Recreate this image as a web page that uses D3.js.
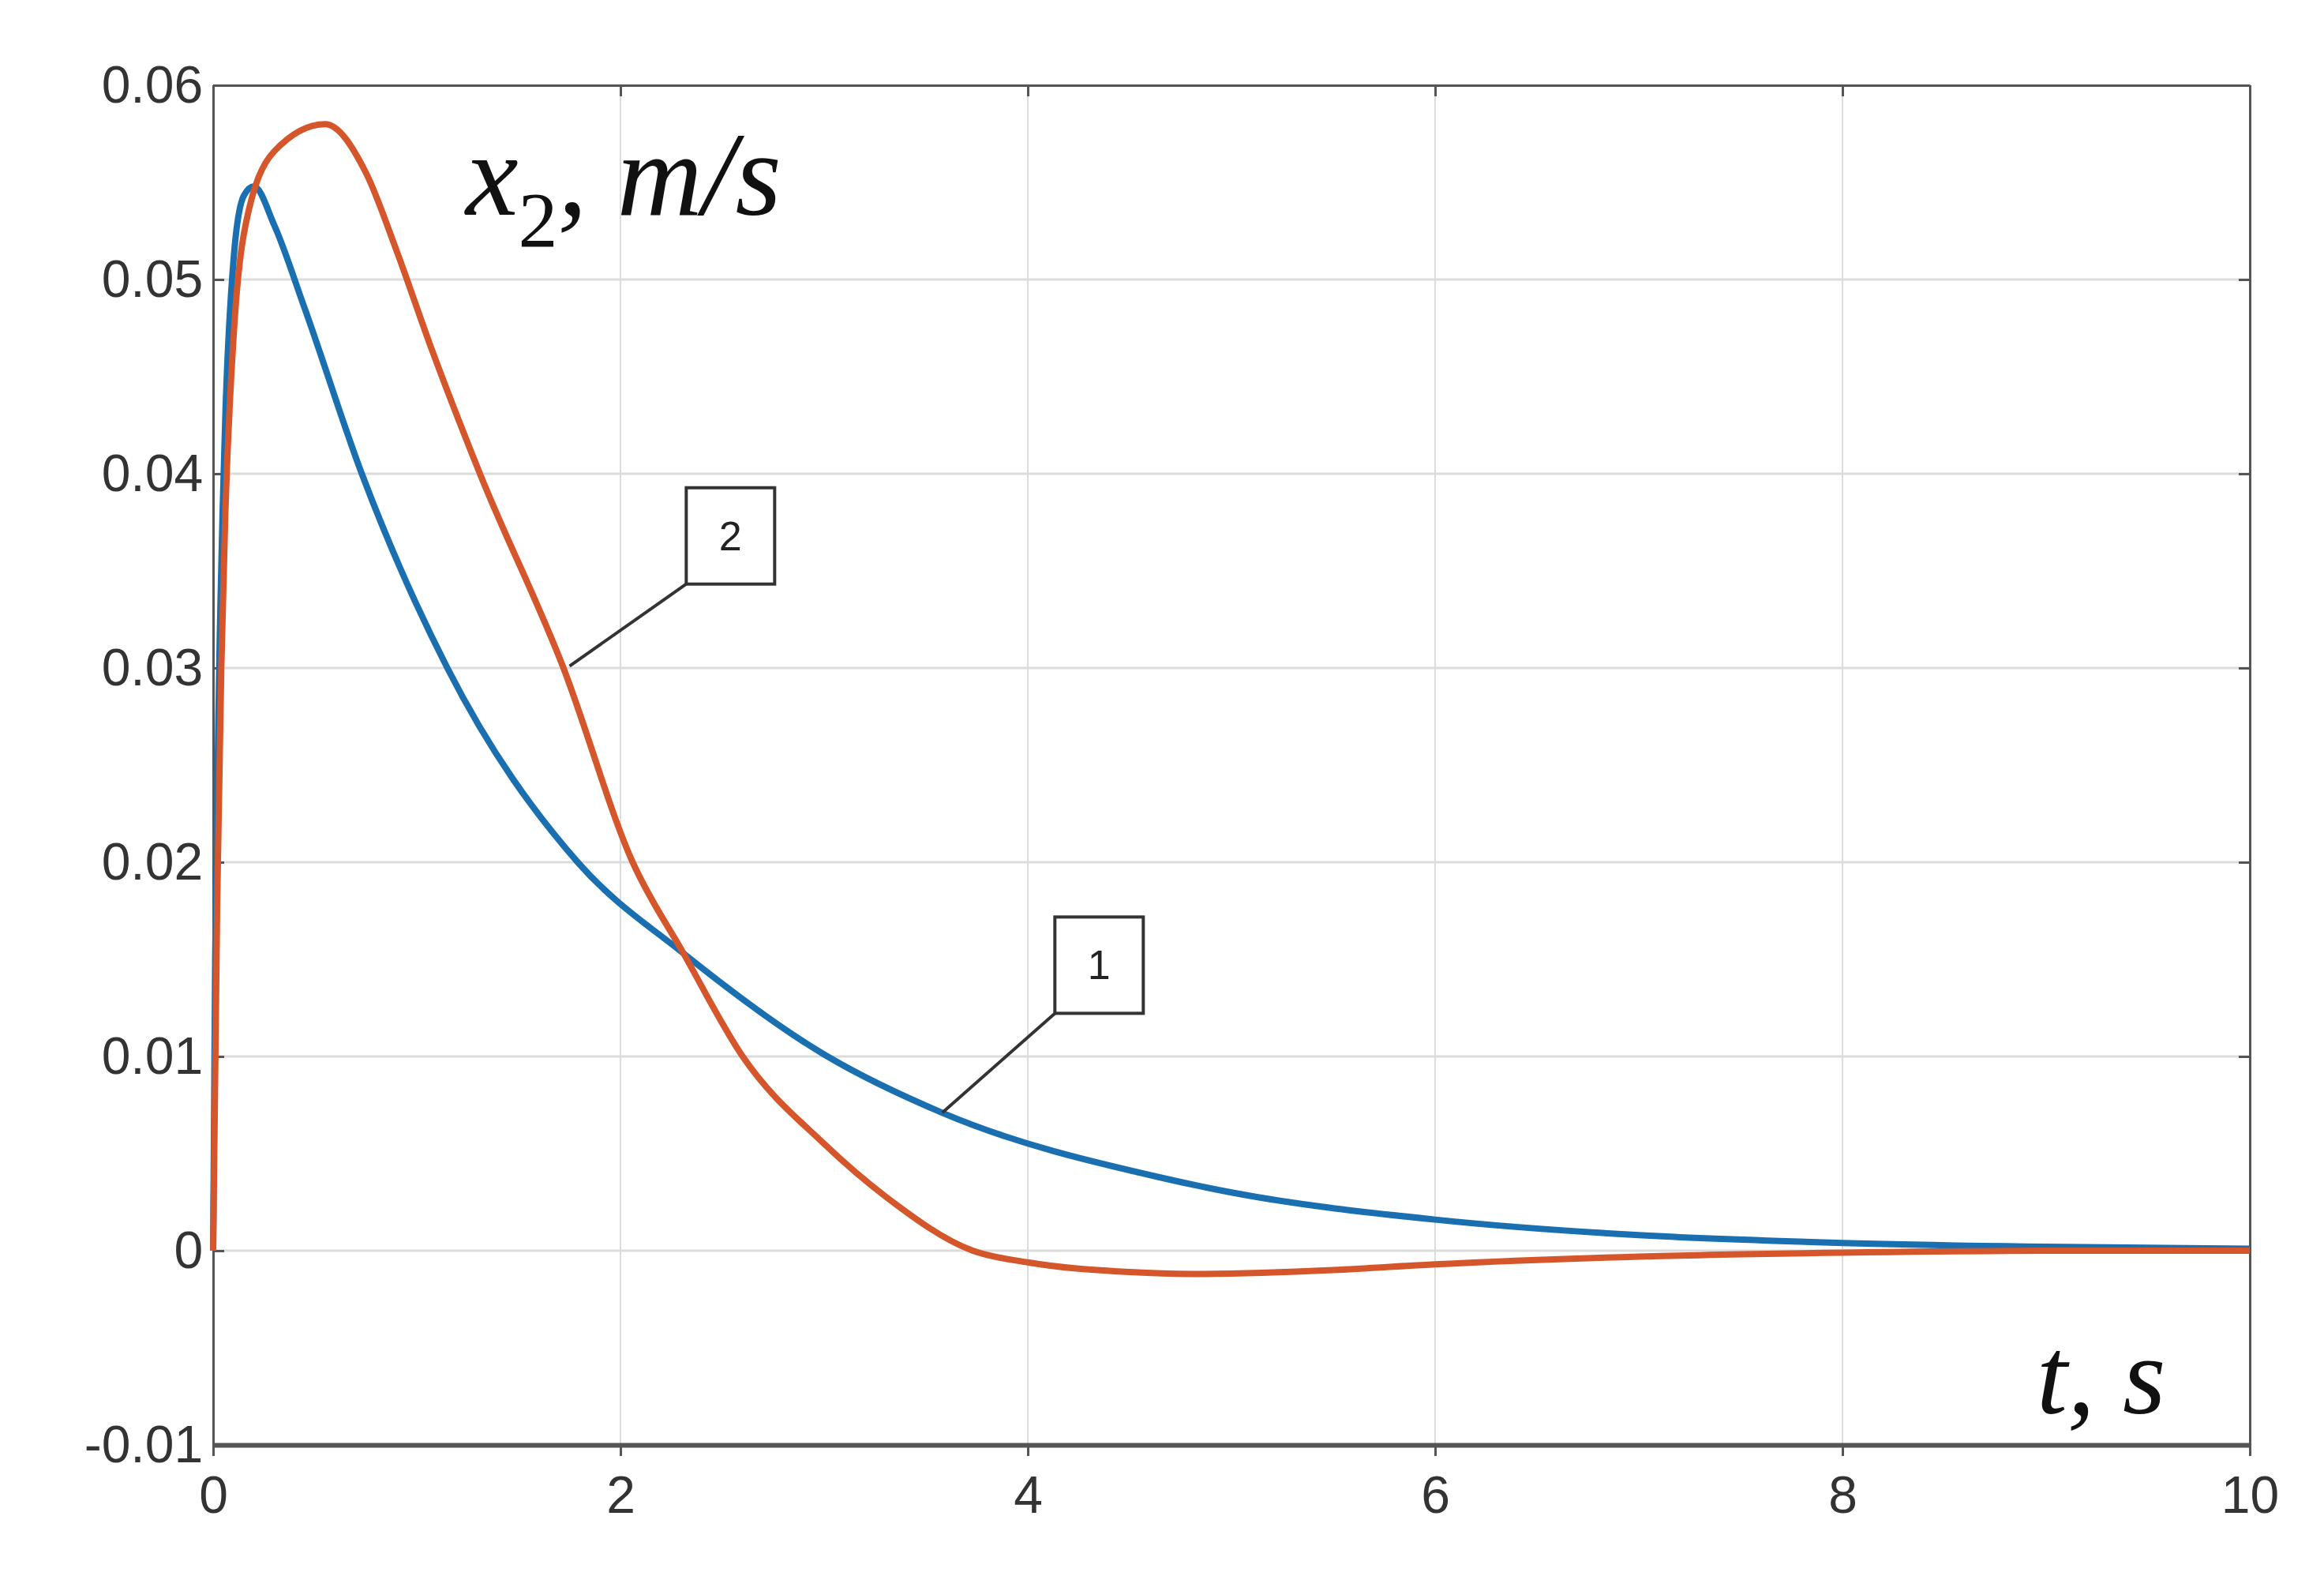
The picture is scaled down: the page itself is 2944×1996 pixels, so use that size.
<!DOCTYPE html>
<html><head><meta charset="utf-8">
<script src="https://cdn.jsdelivr.net/npm/d3@7"></script>
<style>body{margin:0;background:#fff}</style></head>
<body><svg id="c" width="2944" height="1996"></svg>
<script>
const xTicks=[0,2,4,6,8,10];
const yTicks=[-0.01,0,0.01,0.02,0.03,0.04,0.05,0.06];
const yTickLabels=["-0.01","0","0.01","0.02","0.03","0.04","0.05","0.06"];
const t1=[0,0.01,0.03,0.06,0.1,0.15,0.2,0.3,0.45,0.73,1.15,1.79,2.31,3,3.58,4.68,5,6,7,8,9,10];
const v1=[0,0.015,0.03,0.043,0.051,0.0543,0.0548,0.0528,0.0485,0.04,0.03,0.02,0.0153,0.0101,0.0071,0.0037,0.003,0.0016,0.0008,0.0004,0.0002,0.0001];
const t2=[0,0.02,0.04,0.06,0.1,0.15,0.3,0.55,0.75,0.9,1.07,1.31,1.72,2.06,2.31,2.6,3,3.3,3.73,4,4.5,4.8,5.5,6,7,8,9,10];
const v2=[0,0.018,0.03,0.038,0.047,0.0523,0.0566,0.058,0.0555,0.0515,0.0465,0.04,0.03,0.02,0.0153,0.01,0.0055,0.0028,0,-0.0006,-0.0011,-0.0012,-0.001,-0.0007,-0.0003,-0.0001,0,0];
const labels=[{txt:"1",t:4.35,v:0.0147,tt:3.58,tv:0.0071},{txt:"2",t:2.54,v:0.0368,tt:1.75,tv:0.0301}];

const svg=d3.select("#c");
const L=270,R=2850,T=108,B=1830;
const x=d3.scaleLinear().domain([0,10]).range([L,R]);
const y=d3.scaleLinear().domain([-0.01,0.06]).range([B,T]);
const g=svg.append("g");
g.selectAll(".gx").data(xTicks).join("line").attr("x1",d=>x(d)).attr("x2",d=>x(d)).attr("y1",T).attr("y2",B).attr("stroke","#dcdcdc").attr("stroke-width",2);
g.selectAll(".gy").data(yTicks).join("line").attr("y1",d=>y(d)).attr("y2",d=>y(d)).attr("x1",L).attr("x2",R).attr("stroke","#dcdcdc").attr("stroke-width",3);
const ax=svg.append("g").attr("transform",`translate(0,${B})`).call(d3.axisBottom(x).tickValues(xTicks).tickSize(14).tickSizeOuter(0).tickFormat(d3.format("d")));
const ax2=svg.append("g").attr("transform",`translate(0,${T})`).call(d3.axisTop(x).tickValues(xTicks).tickSize(-14).tickSizeOuter(0).tickFormat(""));
const ay=svg.append("g").attr("transform",`translate(${L},0)`).call(d3.axisLeft(y).tickValues(yTicks).tickSize(-14).tickSizeOuter(0).tickFormat((d,i)=>yTickLabels[i]));
const ay2=svg.append("g").attr("transform",`translate(${R},0)`).call(d3.axisRight(y).tickValues(yTicks).tickSize(-14).tickSizeOuter(0).tickFormat(""));
[ax,ax2,ay,ay2].forEach(a=>{a.selectAll("path,line").attr("stroke","#555").attr("stroke-width",3);
 a.selectAll("text").attr("font-family","Liberation Sans, Arial").attr("font-size",66).attr("fill","#333");});
ax.selectAll("text").attr("dy","1.05em");
ay.selectAll("text").attr("dx","-0.15em");
ax.select(".domain").attr("stroke-width",6);
const line=d3.line().x(d=>x(d[0])).y(d=>y(d[1])).curve(d3.curveMonotoneX);
svg.append("path").datum(t1.map((t,i)=>[t,v1[i]])).attr("d",line).attr("fill","none").attr("stroke","#1a6fb0").attr("stroke-width",8);
svg.append("path").datum(t2.map((t,i)=>[t,v2[i]])).attr("d",line).attr("fill","none").attr("stroke","#d4562a").attr("stroke-width",8);
const bw=112,bh=122;
labels.forEach(l=>{
 const cx=x(l.t),cy=y(l.v);
 svg.append("line").attr("x1",cx-bw/2).attr("y1",cy+bh/2).attr("x2",x(l.tt)).attr("y2",y(l.tv)).attr("stroke","#333").attr("stroke-width",4);
 svg.append("rect").attr("x",cx-bw/2).attr("y",cy-bh/2).attr("width",bw).attr("height",bh).attr("fill","#fff").attr("stroke","#333").attr("stroke-width",4);
 svg.append("text").attr("x",cx).attr("y",cy+18).attr("text-anchor","middle").attr("font-family","Liberation Sans, Arial").attr("font-size",52).attr("fill","#222").text(l.txt);
});
const yt=svg.append("text").attr("x",590).attr("y",272).attr("font-family","Liberation Serif, Times New Roman").attr("font-style","italic").attr("font-size",150).attr("fill","#111");
yt.append("tspan").text("x");
yt.append("tspan").attr("font-size",100).attr("dy",40).attr("font-style","normal").text("2");
yt.append("tspan").attr("dy",-40).text(", m/s");
svg.append("text").attr("x",2580).attr("y",1790).attr("font-family","Liberation Serif, Times New Roman").attr("font-style","italic").attr("font-size",140).attr("fill","#111").text("t,  s");
</script></body></html>
